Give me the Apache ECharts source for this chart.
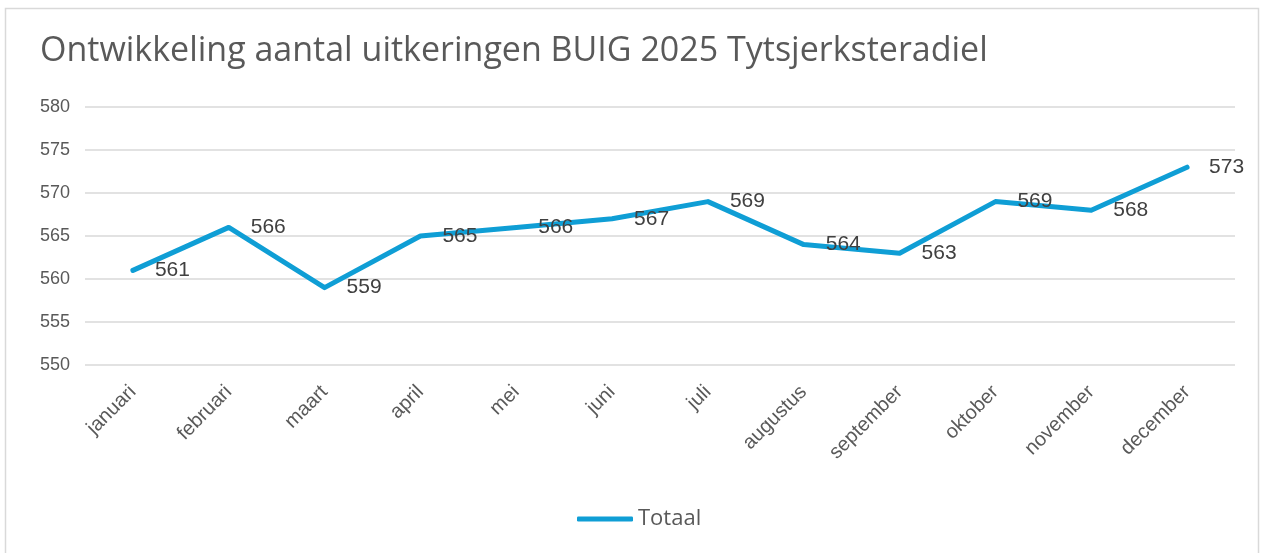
<!DOCTYPE html>
<html><head><meta charset="utf-8">
<script src="https://cdn.jsdelivr.net/npm/echarts@6/dist/echarts.min.js"></script>
<style>html,body{margin:0;padding:0;background:#fff}#c{width:1264px;height:553px}</style>
</head><body><div id="c"></div>
<script>
const categories = ['januari','februari','maart','april','mei','juni','juli','augustus','september','oktober','november','december'];
const totaal = [561,566,559,565,566,567,569,564,563,569,568,573];
const seriesName = 'Totaal';
const titleText = 'Ontwikkeling aantal uitkeringen BUIG 2025 Tytsjerksteradiel';

const chart = echarts.init(document.getElementById('c'));
chart.setOption({
  animation: false,
  graphic: [{type:'rect', shape:{x:5.5,y:8.5,width:1253,height:560}, style:{fill:'none', stroke:'#d9d9d9', lineWidth:1.5}}],
  title: {text: titleText, left: 35, top: 29, textStyle:{fontFamily:'Open Sans', fontSize:34, fontWeight:'normal', color:'#595959'}},
  grid: {left: 85, right: 29, top: 107, height: 258},
  xAxis: {type:'category', data: categories, boundaryGap: true,
    axisLine:{show:false}, axisTick:{show:false},
    axisLabel:{rotate:45, color:'#595959', fontFamily:'Liberation Sans', fontSize:20, margin:24, interval:0}},
  yAxis: {type:'value', min:550, max:580, interval:5,
    axisLabel:{color:'#595959', fontFamily:'Liberation Sans', fontSize:18, margin:0, align:'left', padding:[0,0,0,-45]},
    splitLine:{lineStyle:{color:'#d9d9d9', width:1.5}}},
  legend: {bottom: 18, left: 572, itemWidth:56, itemHeight:5, itemGap:4,
    icon:'roundRect',
    textStyle:{color:'#595959', fontFamily:'Open Sans', fontSize:22}},
  series: [{name: seriesName, type:'line', data: totaal, symbol:'circle', symbolSize:0, showSymbol:true,
    lineStyle:{color:'#0F9ED5', width:5, cap:'round', join:'round'}, itemStyle:{color:'#0F9ED5'},
    labelLayout:{hideOverlap:false},
    label:{show:true, position:'right', distance:22, offset:[0,3], color:'#404040', fontFamily:'Liberation Sans', fontSize:21}}]
});
</script></body></html>
